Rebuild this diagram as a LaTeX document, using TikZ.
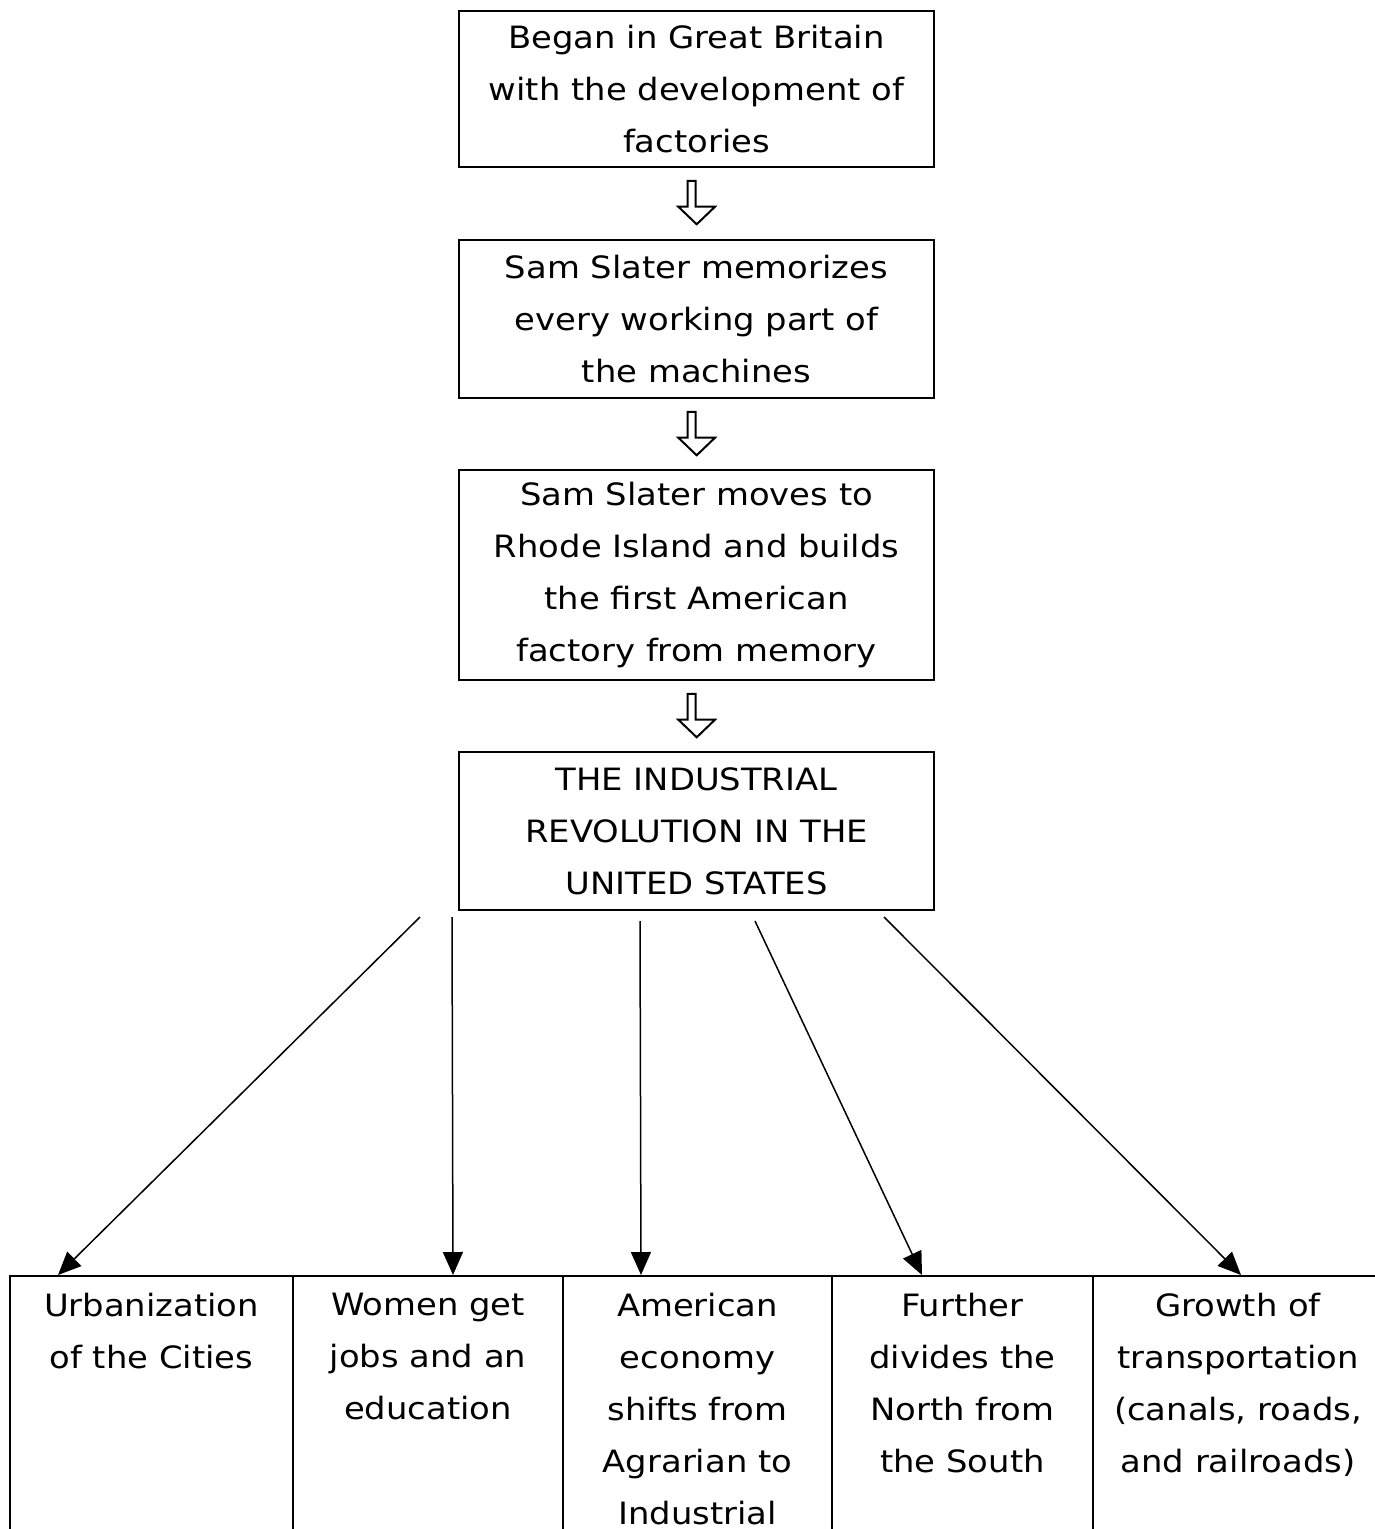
\documentclass[tikz,border=0pt]{standalone}
\usepackage{fontspec}
\setmainfont{DejaVu Sans}[FakeStretch=1.1]
\usetikzlibrary{arrows.meta}

\newcommand{\boxfont}{\fontsize{17.5}{29.6}\selectfont}

\tikzset{
  box/.style={draw, line width=0.04cm, minimum width=9.5cm, inner sep=0pt, align=center, font=\boxfont},
  cell/.style={draw, line width=0.04cm, minimum height=5.4cm, inner sep=0pt, anchor=north},
  celltext/.style={anchor=north, align=center, inner sep=0pt, font=\boxfont, yshift=-0.36cm},
  link/.style={line width=0.03cm, -{Triangle[length=0.46cm,width=0.4cm]}},
  hollow/.pic={
    \draw[line width=0.04cm, line join=miter] (-9,0) -- (-1,0) -- (-1,25.7) -- (18.3,25.7)
      -- (0,43.3) -- (-18.4,25.7) -- (-9,25.7) -- cycle;
  }
}

\begin{document}
\begin{tikzpicture}[x=0.02cm, y=-0.02cm]
    \useasboundingbox (0,0) rectangle (1375,1529);
    \clip (0,0) rectangle (1375,1529);
    % chain of events
    \node [box, minimum height=3.12cm] (began) at (696.5,89) {Began in Great Britain\\with the development of\\factories};
    \node [box, minimum height=3.16cm] (memo) at (696.5,319) {Sam Slater memorizes\\every working part of\\the machines};
    \node [box, minimum height=4.2cm] (moves) at (696.5,575) {Sam Slater moves to\\Rhode Island and builds\\the first American\\factory from memory};
    \node [box, minimum height=3.16cm] (rev) at (696.5,831) {THE INDUSTRIAL\\REVOLUTION IN THE\\UNITED STATES};
    \path (began.south) ++(0.2,13) pic {hollow};
    \path (memo.south) ++(0.2,13) pic {hollow};
    \path (moves.south) ++(0.2,13) pic {hollow};
    % effects
    \node [cell, minimum width=5.66cm] (urban) at (151.5,1275) {};
    \node [cell, minimum width=5.4cm] (women) at (428,1275) {};
    \node [cell, minimum width=5.38cm] (econ) at (697.5,1275) {};
    \node [cell, minimum width=5.22cm] (divide) at (962.5,1275) {};
    \node [cell, minimum width=5.94cm] (trans) at (1241.5,1275) {};
    \node [celltext] (urbant) at (urban.north) {Urbanization\\of the Cities};
    \node [celltext] (woment) at (women.north) {Women get\\jobs and an\\education};
    \node [celltext] (econt) at (econ.north) {American\\economy\\shifts from\\Agrarian to\\Industrial};
    \node [celltext] (dividet) at (divide.north) {Further\\divides the\\North from\\the South};
    \node [celltext, xshift=-0.07cm] (transt) at (trans.north) {Growth of\\transportation\\(canals, roads,\\and railroads)};
    % arrows
    \coordinate (s1) at (420,917);
    \coordinate (s2) at (452,917);
    \coordinate (s3) at (640,921);
    \coordinate (s4) at (755,921);
    \coordinate (s5) at (884,917);
    \coordinate (e1) at (58,1275);
    \coordinate (e2) at (453,1275);
    \coordinate (e3) at (641,1275);
    \coordinate (e4) at (922,1275);
    \coordinate (e5) at (1241,1275);
    \draw [link] (s1) -- (e1);
    \draw [link] (s2) -- (e2);
    \draw [link] (s3) -- (e3);
    \draw [link] (s4) -- (e4);
    \draw [link] (s5) -- (e5);
\end{tikzpicture}
\end{document}
